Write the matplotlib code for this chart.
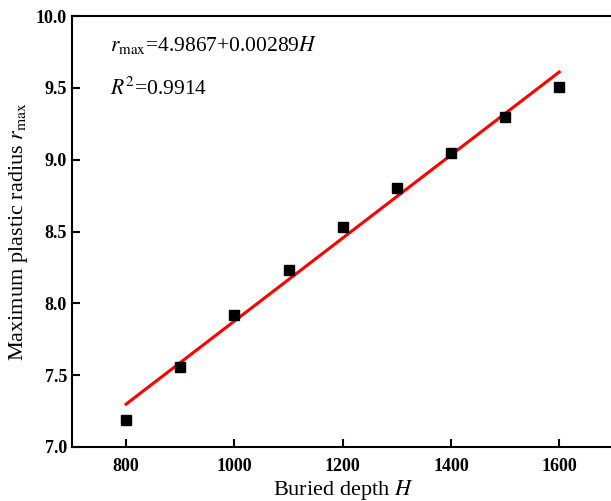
import matplotlib
matplotlib.use("Agg")
import matplotlib.pyplot as plt

plt.rcParams["font.family"] = ["Liberation Serif", "DejaVu Serif"]
plt.rcParams["mathtext.fontset"] = "stix"

depth = [800, 900, 1000, 1100, 1200, 1300, 1400, 1500, 1600]
radius = [7.19, 7.56, 7.92, 8.23, 8.53, 8.80, 9.05, 9.30, 9.51]
fit_a = 4.9867
fit_b = 0.00289
fit_x = [800, 1600]
fit_y = [fit_a + fit_b * h for h in fit_x]

fig = plt.figure(figsize=(6.11, 5.01), dpi=100)
ax = fig.add_axes([0.1178, 0.1078, 0.886, 0.860])

ax.plot(fit_x, fit_y, color="red", lw=2.2, zorder=2)
ax.plot(depth, radius, "s", color="black", ms=7, zorder=3)

ax.set_xlim(700, 1700)
ax.set_ylim(7.0, 10.0)
ax.set_xticks([800, 1000, 1200, 1400, 1600])
ax.set_yticks([7.0, 7.5, 8.0, 8.5, 9.0, 9.5, 10.0])
ax.tick_params(direction="in", length=6, width=1.5, labelsize=13)
ax.tick_params(axis="x", pad=8)
for lab in ax.get_xticklabels() + ax.get_yticklabels():
    lab.set_fontweight("bold")
for s in ax.spines.values():
    s.set_linewidth(1.5)

ax.set_xlabel("Buried depth $\\mathit{H}$", fontsize=16, labelpad=2)
ax.set_ylabel("Maximum plastic radius $\\mathit{r}_{\\rm max}$", fontsize=16, labelpad=4)

ax.text(770, 9.76, "$\\mathit{r}_{\\rm max}$=4.9867+0.00289$\\mathit{H}$", fontsize=15.5)
ax.text(770, 9.45, "$\\mathit{R}^2$=0.9914", fontsize=15.5)

fig.savefig("out.png", dpi=100)
